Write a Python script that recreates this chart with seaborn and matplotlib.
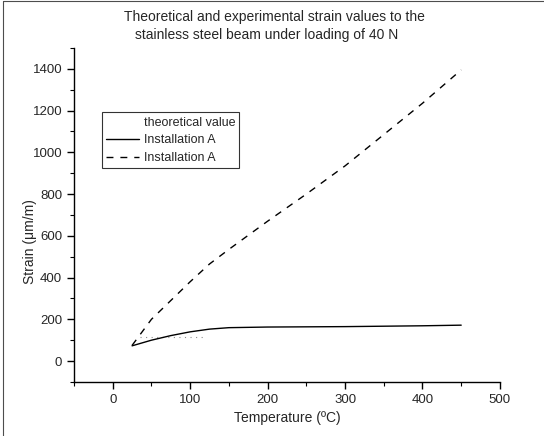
import matplotlib
matplotlib.use("Agg")
import matplotlib.pyplot as plt
from matplotlib.lines import Line2D
from matplotlib.ticker import MultipleLocator
import numpy as np
import pandas as pd
import seaborn as sns

# values
temp = [25, 50, 75, 100, 125, 150, 200, 250, 300, 350, 400, 450]
strain_solid = [73, 100, 122, 140, 153, 160, 163, 164, 165, 167, 169, 172]
strain_dashed = [75, 200, 290, 380, 465, 535, 670, 800, 935, 1085, 1235, 1395]
theory_temp = [35, 120]
theory_strain = [116, 116]

sns.set_style("ticks")
plt.rcParams["font.family"] = ["Liberation Sans", "DejaVu Sans"]

fig = plt.figure(figsize=(5.44, 4.36), dpi=100)
ax = fig.add_axes([0.136, 0.124, 0.783, 0.766])

df = pd.DataFrame({
    "temp": temp + temp,
    "strain": strain_solid + strain_dashed,
    "series": ["solid"] * len(temp) + ["dashed"] * len(temp),
})

sns.lineplot(x=theory_temp, y=theory_strain, ax=ax, color="0.55", lw=0.8,
             linestyle=(0, (1, 4)), label="theoretical value")
sns.lineplot(data=df[df.series == "solid"], x="temp", y="strain", ax=ax,
             color="black", lw=1.0, label="Installation A")
sns.lineplot(data=df[df.series == "dashed"], x="temp", y="strain", ax=ax,
             color="black", lw=1.0, linestyle=(0, (5, 5)), label="Installation A")

ax.set_xlim(-50, 500)
ax.set_ylim(-100, 1500)
ax.set_xticks(range(0, 501, 100))
ax.set_yticks(range(0, 1401, 200))
ax.xaxis.set_minor_locator(MultipleLocator(50))
ax.yaxis.set_minor_locator(MultipleLocator(100))
ax.tick_params(which="major", length=5, width=1, labelsize=9.5, color="black")
ax.tick_params(which="minor", length=3, width=0.8, color="black")
for s in ["left", "bottom"]:
    ax.spines[s].set_linewidth(1.0)
    ax.spines[s].set_color("black")
sns.despine(ax=ax)

ax.set_xlabel("Temperature (ºC)", fontsize=10)
ax.set_ylabel("Strain (μm/m)", fontsize=10)
ax.yaxis.set_label_coords(-0.088, 0.42)

leg = ax.legend(loc="upper left", bbox_to_anchor=(0.065, 0.807), fontsize=9,
                frameon=True, fancybox=False, handlelength=2.6, handletextpad=0.4,
                borderpad=0.35, labelspacing=0.45, borderaxespad=0)
leg.get_frame().set_edgecolor("black")
leg.get_frame().set_linewidth(0.8)
leg.legend_handles[0].set_visible(False)

fig.text(0.505, 0.962, "Theoretical and experimental strain values to the",
         ha="center", va="center", fontsize=10)
fig.text(0.49, 0.92, "stainless steel beam under loading of 40 N",
         ha="center", va="center", fontsize=10)

# scan frame on the left and top
fig.add_artist(Line2D([0.006, 0.006], [0, 0.998], color="0.3", lw=0.8))
fig.add_artist(Line2D([0.006, 1], [0.998, 0.998], color="0.3", lw=0.8))

fig.savefig("out.png", dpi=100)
